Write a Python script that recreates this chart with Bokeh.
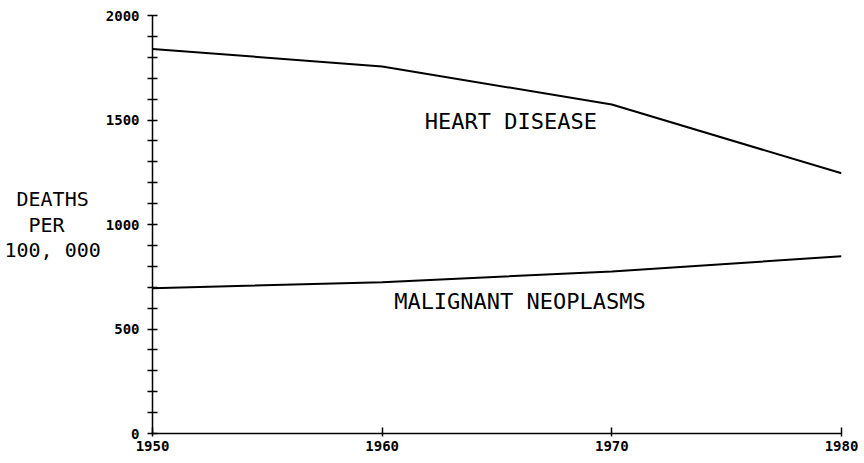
from bokeh.plotting import figure
from bokeh.models import Range1d, FixedTicker, Label
from bokeh.embed import file_html
from bokeh.resources import INLINE

# Death rates per 100,000, by decade
years = [1950, 1960, 1970, 1980]
heart_disease = [1840, 1756, 1574, 1245]
malignant_neoplasms = [695, 724, 775, 848]

y_ticks = list(range(0, 2001, 100))
y_tick_labels = {t: (str(t) if t % 500 == 0 else "") for t in y_ticks}
x_ticks = [1950, 1960, 1970, 1980]

FONT = "DejaVu Sans Mono"
NB = "\u00a0"  # non-breaking space, keeps the padding of the monospaced unit label

p = figure(width=864, height=463, output_backend="svg", toolbar_location=None,
           x_range=Range1d(1950, 1980), y_range=Range1d(0, 2000),
           min_border_left=152, min_border_right=23, min_border_top=15,
           min_border_bottom=30)
p.outline_line_color = None
p.grid.visible = False
p.background_fill_color = "white"
p.border_fill_color = "white"

for ax in (p.xaxis[0], p.yaxis[0]):
    ax.axis_line_color = "black"
    ax.axis_line_width = 1.5
    ax.major_tick_line_color = "black"
    ax.major_tick_line_width = 1.5
    ax.minor_tick_line_color = None
    ax.major_label_text_font = FONT
    ax.major_label_text_font_style = "bold"
    ax.major_label_text_font_size = "14px"
    ax.major_label_text_color = "black"

yax = p.yaxis[0]
yax.ticker = FixedTicker(ticks=y_ticks)
yax.major_label_overrides = y_tick_labels
yax.major_tick_in = 5
yax.major_tick_out = 5
yax.major_label_standoff = 8

# Unit label set horizontally to the left of the value axis
yax.axis_label = f"{NB}DEATHS{NB}\n{NB}{NB}PER{NB}{NB}{NB}\n100, 000"
yax.axis_label_orientation = "horizontal"
yax.axis_label_text_font = FONT
yax.axis_label_text_font_style = "normal"
yax.axis_label_text_font_size = "20px"
yax.axis_label_text_color = "black"
yax.axis_label_text_line_height = 1.08
yax.axis_label_standoff = 2

xax = p.xaxis[0]
xax.ticker = FixedTicker(ticks=x_ticks)
xax.major_tick_in = 6
xax.major_tick_out = 3
xax.major_label_standoff = 4

p.line(years, heart_disease, line_color="black", line_width=2)
p.line(years, malignant_neoplasms, line_color="black", line_width=2)

p.add_layout(Label(x=1965.6, y=1493, text="HEART DISEASE", text_font=FONT,
                   text_font_size="22px", text_align="center",
                   text_baseline="middle", text_color="black"))
p.add_layout(Label(x=1966.0, y=632, text="MALIGNANT NEOPLASMS", text_font=FONT,
                   text_font_size="22px", text_align="center",
                   text_baseline="middle", text_color="black"))

open("out.html", "w").write(file_html(p, INLINE))
